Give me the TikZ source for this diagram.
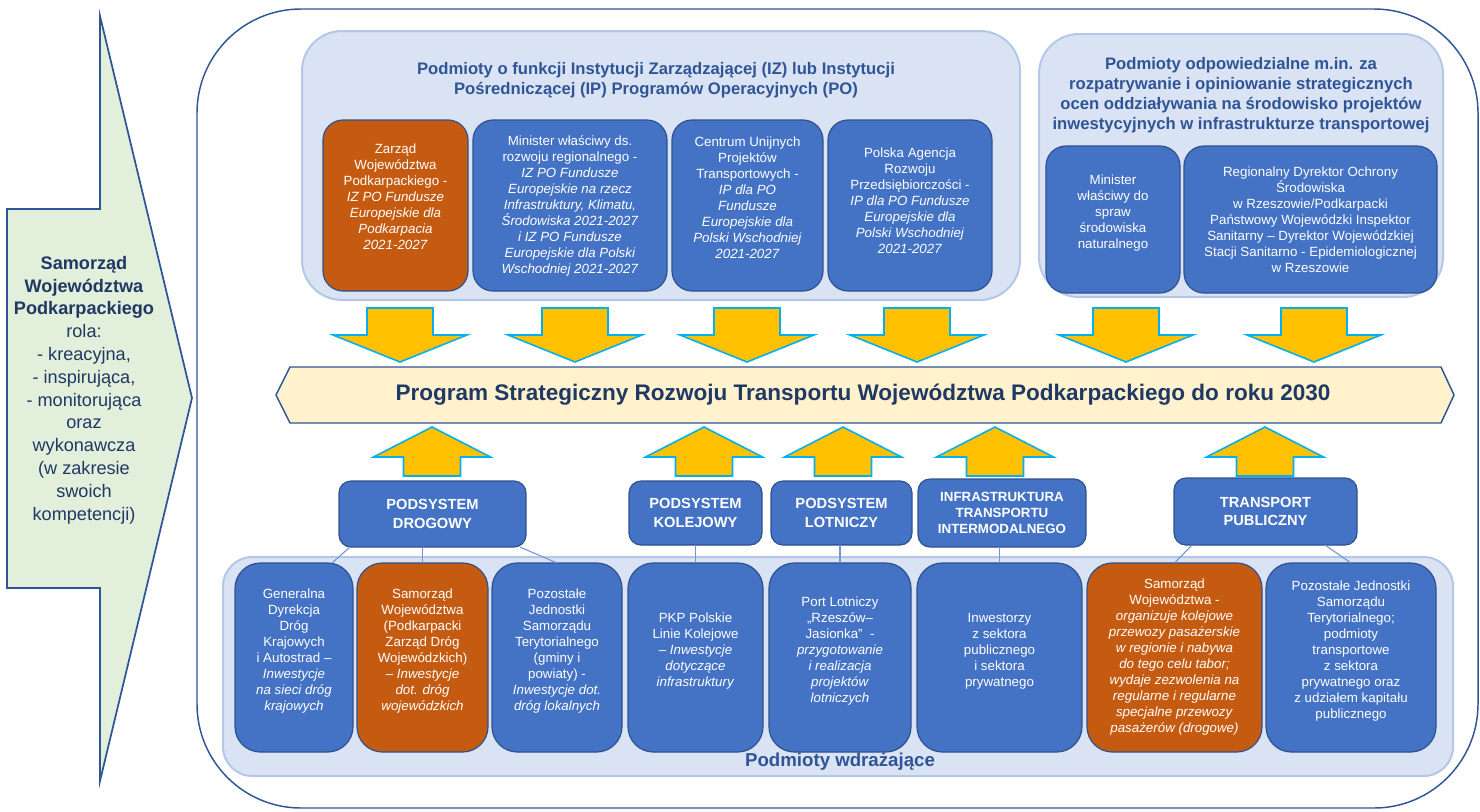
\documentclass[tikz,border=0pt]{standalone}
\usepackage{fontspec}
\setmainfont{Liberation Sans}
\usepackage{xcolor}
\usepackage{tikz}
\usetikzlibrary{shapes,arrows,positioning}
\definecolor{boxblue}{HTML}{4472C4}
\definecolor{boxedge}{HTML}{2F528F}
\definecolor{leadorange}{HTML}{C55A11}
\definecolor{groupfill}{HTML}{DAE3F3}
\definecolor{groupedge}{HTML}{B4C7E7}
\definecolor{titleblue}{HTML}{2F5597}
\definecolor{navy}{HTML}{203864}
\definecolor{feedfill}{HTML}{FFC000}
\definecolor{feededge}{HTML}{00B0F0}
\definecolor{bannerfill}{HTML}{FFF2CC}
\definecolor{rolefill}{HTML}{E2EFDA}
\definecolor{linkblue}{HTML}{7096D8}
\tikzstyle{agency} = [rectangle, draw=boxedge, line width=0.9pt, fill=boxblue, text=white, align=center, rounded corners=15pt, inner sep=0pt, outer sep=0pt, font=\fontsize{10}{12}\selectfont]
\tikzstyle{leadbox} = [agency, fill=leadorange]
\tikzstyle{subsystem} = [agency, rounded corners=9pt, font=\bfseries\fontsize{11}{14}\selectfont]
\tikzstyle{groupbox} = [rectangle, draw=groupedge, fill=groupfill, line width=1.5pt, rounded corners=30pt, inner sep=0pt, outer sep=0pt]
\tikzstyle{grouptitle} = [text=titleblue, align=center, inner sep=0pt, font=\bfseries\fontsize{12.5}{15}\selectfont]
\tikzstyle{feedarrow} = [draw=feededge, fill=feedfill, line width=1.2pt]
\tikzstyle{link} = [draw=linkblue, line width=0.8pt]

\begin{document}
\begin{tikzpicture}[x=0.75pt, y=-0.75pt]
    \useasboundingbox (0,0) rectangle (1480,811);
    \draw [titleblue, line width=1.1pt, rounded corners=78pt] (197,9) rectangle (1478,808);

    \draw [draw=titleblue, fill=rolefill, line width=1.3pt] (7,209) -- (100,209) -- (100,16) -- (192,398) -- (100,781) -- (100,588) -- (7,588) -- cycle;
    \node [text=navy, align=center, font=\fontsize{13.6}{17.1}\selectfont] (role) at (84,390)
        {\textbf{Samorząd}\\\textbf{Województwa}\\\textbf{Podkarpackiego}\\rola:\\- kreacyjna,\\- inspirująca,\\- monitorująca\\oraz\\wykonawcza\\(w zakresie\\swoich\\kompetencji)};

    \node [groupbox, minimum width=538.5pt, minimum height=201.75pt] (izgroup) at (661,165.5) {};
    \node [grouptitle] (iztitle) at (656,80) {Podmioty o funkcji Instytucji Zarządzającej (IZ) lub Instytucji\\Pośredniczącej (IP) Programów Operacyjnych (PO)};
    \node [groupbox, minimum width=303pt, minimum height=197.25pt] (envgroup) at (1241,165.5) {};
    \node [grouptitle] (envtitle) at (1241,95) {Podmioty odpowiedzialne m.in. za\\rozpatrywanie i opiniowanie strategicznych\\ocen oddziaływania na środowisko projektów\\inwestycyjnych w infrastrukturze transportowej};
    \node [groupbox, rounded corners=22pt, minimum width=922.5pt, minimum height=164.25pt] (implgroup) at (838,666.5) {};
    \node [grouptitle, font=\bfseries\fontsize{14}{16}\selectfont] (impltitle) at (840,762) {Podmioty wdrażające};

    \node [leadbox, minimum width=108.75pt, minimum height=128.25pt] (zarzad) at (395.5,205.5)
        {Zarząd\\Województwa\\Podkarpackiego -\\\textit{IZ PO Fundusze}\\\textit{Europejskie dla}\\\textit{Podkarpacia}\\\textit{2021-2027}\\[2pt]\mbox{}};
    \node [agency, right=3.75pt of zarzad, minimum width=145.5pt, minimum height=128.25pt] (minrozw)
        {Minister właściwy ds.\\rozwoju regionalnego -\\\textit{IZ PO Fundusze}\\\textit{Europejskie na rzecz}\\\textit{Infrastruktury, Klimatu,}\\\textit{Środowiska 2021-2027}\\\textit{i IZ PO Fundusze}\\\textit{Europejskie dla Polski}\\\textit{Wschodniej 2021-2027}};
    \node [agency, right=3.75pt of minrozw, minimum width=113.25pt, minimum height=128.25pt] (cupt)
        {Centrum Unijnych\\Projektów\\Transportowych -\\\textit{IP dla PO}\\\textit{Fundusze}\\\textit{Europejskie dla}\\\textit{Polski Wschodniej}\\\textit{2021-2027}\\\mbox{}};
    \node [agency, right=3.75pt of cupt, minimum width=123pt, minimum height=128.25pt] (parp)
        {Polska Agencja\\Rozwoju\\Przedsiębiorczości -\\\textit{IP dla PO Fundusze}\\\textit{Europejskie dla}\\\textit{Polski Wschodniej}\\\textit{2021-2027}\\[-4pt]\mbox{}};

    \node [agency, minimum width=100.5pt, minimum height=110.25pt] (minsrod) at (1113,219.5)
        {Minister\\właściwy do\\spraw\\środowiska\\naturalnego\\\mbox{}};
    \node [agency, right=3pt of minsrod, minimum width=189.75pt, minimum height=110.25pt] (rdos)
        {Regionalny Dyrektor Ochrony\\Środowiska\\w Rzeszowie/Podkarpacki\\Państwowy Wojewódzki Inspektor\\Sanitarny – Dyrektor Wojewódzkiej\\Stacji Sanitarno - Epidemiologicznej\\w Rzeszowie};

    \foreach \x in {400,575,747,917,1126,1314}
        \draw [feedarrow] (\x-33,308) -- (\x+33,308) -- (\x+33,335) -- (\x+67,335) -- (\x,362) -- (\x-67,335) -- (\x-33,335) -- cycle;

    \draw [draw=titleblue, fill=bannerfill, line width=1.1pt] (276,395) -- (290,367) -- (1441,367) -- (1454,395) -- (1441,423) -- (290,423) -- cycle;
    \node [text=navy, font=\bfseries\fontsize{16.9}{20}\selectfont] (program) at (863,395)
        {Program Strategiczny Rozwoju Transportu Województwa Podkarpackiego do roku 2030};

    \foreach \x in {432,704,843,995,1265}
        \draw [feedarrow] (\x-28.5,476) -- (\x+28.5,476) -- (\x+28.5,457) -- (\x+58.5,457) -- (\x,427) -- (\x-58.5,457) -- (\x-28.5,457) -- cycle;

    \node [subsystem, minimum width=140.25pt, minimum height=49.5pt] (drogowy) at (432.5,514) {PODSYSTEM\\DROGOWY};
    \node [subsystem, minimum width=99.75pt, minimum height=48pt] (kolejowy) at (695.5,513) {PODSYSTEM\\KOLEJOWY};
    \node [subsystem, right=6.75pt of kolejowy, minimum width=105.75pt, minimum height=48pt] (lotniczy) {PODSYSTEM\\LOTNICZY};
    \node [subsystem, right=4.5pt of lotniczy, minimum width=126pt, minimum height=51pt, font=\bfseries\fontsize{10}{11.8}\selectfont] (intermodal) {INFRASTRUKTURA\\TRANSPORTU\\INTERMODALNEGO};
    \node [subsystem, minimum width=137.25pt, minimum height=50.25pt] (publiczny) at (1265.5,511.5) {TRANSPORT\\PUBLICZNY};

    \node [agency, rounded corners=19pt, minimum width=88.5pt, minimum height=141.75pt] (gddkia) at (294,657.5)
        {Generalna\\Dyrekcja\\Dróg\\Krajowych\\i Autostrad –\\\textit{Inwestycje}\\\textit{na sieci dróg}\\\textit{krajowych}\\\mbox{}};
    \node [leadbox, rounded corners=19pt, right=3pt of gddkia, minimum width=98.25pt, minimum height=141.75pt] (pzdw)
        {Samorząd\\Województwa\\(Podkarpacki\\Zarząd Dróg\\Wojewódzkich)\\– \textit{Inwestycje}\\\textit{dot. dróg}\\\textit{wojewódzkich}\\\mbox{}};
    \node [agency, rounded corners=19pt, right=3pt of pzdw, minimum width=97.5pt, minimum height=141.75pt] (jst)
        {Pozostałe\\Jednostki\\Samorządu\\Terytorialnego\\(gminy i\\powiaty) -\\\textit{Inwestycje dot.}\\\textit{dróg lokalnych}\\\mbox{}};
    \node [agency, rounded corners=19pt, right=4.5pt of jst, minimum width=101.25pt, minimum height=141.75pt] (pkp)
        {PKP Polskie\\Linie Kolejowe\\– \textit{Inwestycje}\\\textit{dotyczące}\\\textit{infrastruktury}\\\mbox{}};
    \node [agency, rounded corners=19pt, right=4.5pt of pkp, minimum width=106.5pt, minimum height=141.75pt] (port)
        {Port Lotniczy\\„Rzeszów–\\Jasionka”\ \ -\\\textit{przygotowanie}\\\textit{i realizacja}\\\textit{projektów}\\\textit{lotniczych}\\\mbox{}};
    \node [agency, rounded corners=19pt, right=4.5pt of port, minimum width=123.75pt, minimum height=141.75pt] (inwestorzy)
        {Inwestorzy\\z sektora\\publicznego\\i sektora\\prywatnego\\\mbox{}};
    \node [leadbox, rounded corners=19pt, right=3.75pt of inwestorzy, minimum width=131.25pt, minimum height=141.75pt] (swprzewozy)
        {Samorząd\\Województwa -\\\textit{organizuje kolejowe}\\\textit{przewozy pasażerskie}\\\textit{w regionie i nabywa}\\\textit{do tego celu tabor;}\\\textit{wydaje zezwolenia na}\\\textit{regularne i regularne}\\\textit{specjalne przewozy}\\\textit{pasażerów (drogowe)}};
    \node [agency, rounded corners=19pt, right=3pt of swprzewozy, minimum width=127.5pt, minimum height=141.75pt] (przewoznicy)
        {Pozostałe Jednostki\\Samorządu\\Terytorialnego;\\podmioty\\transportowe\\z sektora\\prywatnego oraz\\z udziałem kapitału\\publicznego\\\mbox{}};

    \path [link] ([xshift=8.25pt]drogowy.south west) -- ([xshift=-15.75pt]gddkia.north east);
    \path [link] (pzdw.north |- drogowy.south) -- (pzdw.north);
    \path [link] ([xshift=-4.5pt]drogowy.south east) -- (jst.north);
    \path [link] (kolejowy) -- (pkp);
    \path [link] (port.north |- lotniczy.south) -- (port.north);
    \path [link] (inwestorzy.north |- intermodal.south) -- (inwestorzy.north);
    \path [link] ([xshift=13.5pt]publiczny.south west) -- (swprzewozy.north);
    \path [link] ([xshift=-24pt]publiczny.south east) -- (przewoznicy.north);
\end{tikzpicture}
\end{document}
